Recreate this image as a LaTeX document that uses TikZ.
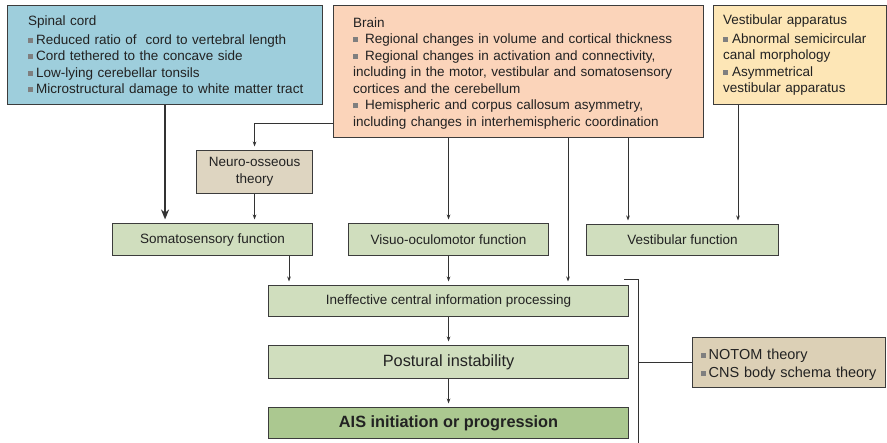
\documentclass[tikz,border=0pt]{standalone}
\usepackage{fontspec}
\setmainfont{Liberation Sans}
\usetikzlibrary{arrows.meta}
\definecolor{spc}{HTML}{9ECEDC}
\definecolor{brc}{HTML}{FBD4BA}
\definecolor{vac}{HTML}{FDE6B6}
\definecolor{neu}{HTML}{DED5C1}
\definecolor{grn}{HTML}{D0DEBE}
\definecolor{aisc}{HTML}{ABC890}
\definecolor{nto}{HTML}{DCD0B6}
\definecolor{bord}{HTML}{3C3C3C}
\definecolor{linec}{HTML}{333333}
\definecolor{bulc}{HTML}{7F7F7F}
\definecolor{txtc}{HTML}{222222}
\newcommand{\bsq}{\textcolor{bulc}{\rule[1.6pt]{5pt}{5pt}}}
\newcommand{\itm}[2]{\par\hangindent=#1\hangafter=1\noindent\makebox[#1][l]{\bsq}#2}
\begin{document}
\begin{tikzpicture}[x=1pt,y=-1pt,
 box/.style={draw=bord,line width=1.1pt,anchor=north west,inner sep=0pt,text=txtc},
 fbox/.style={box,fill=grn,font=\fontsize{13.5}{15}\selectfont},
 txt/.style={anchor=north west,inner sep=0pt,align=left,text=txtc,font=\fontsize{13.5}{16.5}\selectfont},
 arr/.style={draw=linec,line width=0.9pt,-{Stealth[length=5pt,width=3.6pt]},shorten >=3.5pt},
 ln/.style={draw=linec,line width=0.9pt}
]
\useasboundingbox (0,0) rectangle (887,443);
\fill[white] (0,0) rectangle (887,443);
% boxes
\node[box,fill=spc,minimum width=315pt,minimum height=99pt] (spinal) at (7,5) {};
\node[box,fill=brc,minimum width=370pt,minimum height=132pt] (brain) at (333,5) {};
\node[box,fill=vac,minimum width=173pt,minimum height=99pt] (vest) at (713,5) {};
\node[box,fill=neu,minimum width=116pt,minimum height=43pt,align=center,font=\fontsize{13.5}{18.5}\selectfont] (neuro) at (196,150) {\raisebox{-1.5pt}{Neuro-osseous}\\theory};
\node[fbox,minimum width=200pt,minimum height=32pt] (soma) at (112,223) {Somatosensory function};
\node[fbox,minimum width=200pt,minimum height=32pt] (visuo) at (348,223) {Visuo-oculomotor function};
\node[fbox,minimum width=192pt,minimum height=31pt] (vfun) at (586,224) {Vestibular function};
\node[fbox,minimum width=360pt,minimum height=31pt] (ineff) at (268,285) {Ineffective central information processing};
\node[fbox,minimum width=360pt,minimum height=33pt,font=\fontsize{16.3}{18}\selectfont] (post) at (268,345) {Postural instability};
\node[fbox,fill=aisc,minimum width=360pt,minimum height=31pt,font=\fontsize{16.3}{18}\selectfont\bfseries] (ais) at (268,407) {AIS initiation or progression};
\node[box,fill=nto,minimum width=193pt,minimum height=50pt] (notom) at (692,337) {};
% texts
\node[txt,text width=300pt] (spinalT) at (28,16) {Spinal cord\par\vspace{2pt}%
\itm{8pt}{Reduced ratio of\ \ cord to vertebral length}%
\itm{8pt}{Cord tethered to the concave side}%
\itm{8pt}{Low-lying cerebellar tonsils}%
\itm{8pt}{Microstructural damage to white matter tract}};
\node[txt,text width=345pt] (brainT) at (353,17.5) {Brain%
\itm{12pt}{Regional changes in volume and cortical thickness}%
\itm{12pt}{Regional changes in activation and connectivity,\\ including in the motor, vestibular and somatosensory\\ cortices and the cerebellum}%
\itm{12pt}{Hemispheric and corpus callosum asymmetry,\\ including changes in interhemispheric coordination}};
\node[txt,text width=160pt] (vestT) at (723,14.5) {Vestibular apparatus\par\vspace{2.5pt}%
\itm{9pt}{Abnormal semicircular\\ canal morphology}%
\itm{9pt}{Asymmetrical\\ vestibular apparatus}};
\node[txt,text width=180pt,font=\fontsize{14.5}{18}\selectfont] (notomT) at (701,341.5) {%
\itm{7.5pt}{NOTOM theory}%
\itm{7.5pt}{CNS body schema theory}};
% connectors
\coordinate (yb) at (0,123);
\coordinate (xa) at (568,0);
\coordinate (xb) at (628,0);
\coordinate (xc) at (738,0);
\coordinate (xd) at (289,0);
\coordinate (bt) at (624,279);
\coordinate (bb) at (638,443);
\draw[arr] (brain.west |- yb) -| (neuro.north);
\draw[arr,line width=2.6pt,-{Stealth[length=10pt,width=8pt]}] (spinal.south) -- (spinal.south |- soma.north);
\draw[arr] (neuro.south) -- (neuro.south |- soma.north);
\draw[arr] (brain.south -| visuo.north) -- (visuo.north);
\draw[arr] (brain.south -| xa) -- (xa |- ineff.north);
\draw[arr] (brain.south -| xb) -- (xb |- vfun.north);
\draw[arr] (vest.south -| xc) -- (xc |- vfun.north);
\draw[arr] (soma.south -| xd) -- (xd |- ineff.north);
\draw[arr] (visuo.south) -- (ineff.north);
\draw[arr] (ineff.south) -- (post.north);
\draw[arr] (post.south) -- (ais.north);
\draw[ln] (bt) -| (bb);
\draw[ln] (bb |- notom.west) -- (notom.west);
\end{tikzpicture}
\end{document}
